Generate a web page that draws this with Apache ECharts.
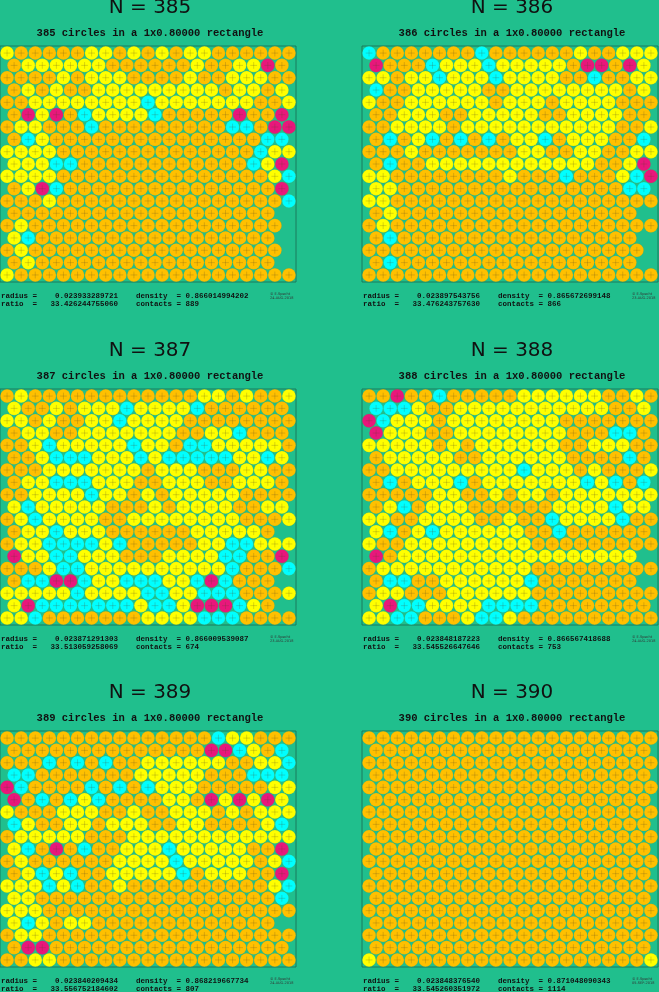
<!DOCTYPE html>
<html><head><meta charset="utf-8">
<script src="https://cdn.jsdelivr.net/npm/echarts@6/dist/echarts.min.js"></script>
<style>html,body{margin:0;padding:0;background:#20BF8D}#c{width:659px;height:992px}</style>
</head><body><div id="c"></div>
<script>
// Colour codes per row: O orange, Y yellow, C cyan, M magenta, '.' = no circle
const panelN = [385, 386, 387, 388, 389, 390];
const radii = ['0.023933289721','0.023897543756','0.023871291303','0.023848187223','0.023840209434','0.023848376540'];
const ratios = ['33.426244755060','33.476243757630','33.513059258069','33.545526647646','33.556752184602','33.545260351972'];
const densities = ['0.866014994202','0.865672699148','0.866009539087','0.866567418688','0.868219667734','0.871048090343'];
const contacts = ['889','866','674','753','807','1114'];
const dates = ['24-AUG-2018','23-AUG-2018','23-AUG-2018','24-AUG-2018','24-AUG-2018','05-SEP-2018'];
const rows385 = [
"YOOOOOYYOYOYOYYOOOOOO","OYYYYYYOOOOOOYOOYYMO","OOOOYOYYYOOOOYOOYYYOO","OYOYOOYYYYYYYYYOYYOY",
"OOYYYYYYYYCYYYYYYYOOY","OMYMOCYYYYCOOOOOMOOM","OYYOOOCOOOOOOOOOCCOMM","OCYOOOOOOOOOOOOOOOCC",
"YYYYOOOOOOOOOOOOOOCYY","YYYCCOOOOOOOOOOOOCYM","YYYYOOOOOOOOOOOOOOOYC","OYMCOOOOOOOOOOOOOOOM",
"OOOYOOOOOOOOOOOOOOOOC","OOOOOOOOOOOOOOOOOOO.","OYOOOOOOOOOOOOOOOOOO.","YCOOOOOOOOOOOOOOOOO.",
"OYOOOOOOOOOOOOOOOOOO.","OYOOOOOOOOOOOOOOOOO.","YOOOOOOOOOOOOOOOOOOOO"];
const rows386 = [
"COOOOOOOCOOOOOOYOOYYY","MOOOCYYYCYYYYYOMMOMY","YYOYYCYYYCYYYYOOCOOYY","COOYYYYYOOYYYYYYYYOY",
"YOOYYYYYYOYYYOYYYYOOO","OOYYYOOYYYYYOOYYYYOO","OOYYYYOYYYYYYYYYYYOOY","OCOYCOCOCOYYCOYYYOOC",
"OOOYOOOOOOOYYOOYYOOYY","OCOOYYYYYYYYYYYYOOYM","YYOOOOOOOOYOOOCOOOYCM","YYOOOOOOOOOOOOOOOOCC",
"YYOOOOOOOOOOOOOOOOOOO","OYOOOOOOOOOOOOOOOOO.","OYOOOOOOOOOOOOOOOOOOO","OCOOOOOOOOOOOOOOOOO.",
"OOOOOOOOOOOOOOOOOOOO.","OCOOOOOOOOOOOOOOOOO.","OOOOOOOOOOOOOOOOOOOOO"];
const rows387 = [
"OYOOOOOOOOOOOOYYOYOOY","YOOYOYYYCYYYYCOOOOOO","YYOYOOYYCYYYYOOOOOOOO","OYYOOYYYYYYYOOYYCOOO",
"OOYCYYYYYCYYOCCYYYYYO","OOYCCCYYYCYCCCCCYYCY","OOOYYYYYYYOYYYOOOYYOO","OYYCCCYYYOOYYYOOYYYO",
"OOYYYYCYYOYOYYYYYOOOO","YCYYYYYOOOYOYYYYOOYY","OYCYYYYOOYYYYYYYYOOOY","OYYCYYYOOOOOOYYYYYO.",
"OYYCCCCYCOOOOOYYCCYYY","MYYCCYYYOOOYYYYCCOOM","OOOYCCYYYYYYYYYYCOOOC","OCCMMCYYCCCYYCMCOOO.",
"YYYYYCYYYYCCYYCCCOOOY","YMCCCCCCCYCCYMMMCYO.","YYCOOOOOOOYYYYCCCOOOO"];
const rows388 = [
"OOMOOCOOOOOYYYYYYOOYO","CCCYOOYYYYYYYYYYYOOY","MCYYYOYYYYYYYYOOOOOOO","MYYYOOYYYYYYYYOOOCCO",
"YYYYYOYOYYYYYYOOYYYOO","OYYYYYOOYYYYYYOOOOCO","OOYYYYYYYYYCYYYOYOOOY","OCOYYYCOYYYYYYYCYCOC",
"OOOOOYYOOYOYYOYYYYYYY","OYCOYYYOOOOOOYYYYCYY","YYOOYYYYOOYOOCYYYYCOO","YCOYCYYYYYYOOCOOOOOO",
"YOOYYYYYYYYYOOOOOOOOO","MOYYYYYYYYYYYYYYYYY.","OYYYYYYYYYYYOOOOOOOOO","OCCOOYYYYYYCOOOOOOO.",
"OYYOOOYYYYYYOOOOOOOOO","YMCCYYYYCCCCOOOOOOOO","YYCCOOOYCCYOOOOOOOOOO"];
const rows389 = [
"OOOOOOOOOOOOOOOCYYOOO","OOOOOOOOOOOOOOMMCYOC","OOOCOCOCOOYYYYYYOOYYC","CCOOOOOOOYYYYYOOOCCC",
"MCOOOOCOCOCYYYOOOOOYY","MOCOCYCOOOOYYOMYMYMY","YOOOYYYOOYOOYYYOYOYYY","CYOOYYOYYYOOYYOOOOYC",
"OYYYYYOOOYYYYYYYYYYYY","YCOMOCOOYYYCYYYYYOOM","OYOOOOOOYYYYCYYYYYOYC","OYCYCOOYYYYYCOYYYOOM",
"YYYCYCOOYOOOOOOOOOOYC","YYOOOOOOOOOOOOOOOOOC","YYYOOOOOOOOOOOOOOOOOO","YCYOYYOOOOOOOOOOOOO.",
"OYYOOOOOOOOOOOOOOOOOO","OMMOOOOOOOOOOOOOOOOO","OOYYOOOOOOOOOOOOOOOOO"];
const rows390 = [
"OOOOOOOOOOOOOOOOOOOOO","OOOOOOOOOOOOOOOOOOOO","OOOOOOOOOOOOOOOOOOOOO","OOOOOOOOOOOOOOOOOOOO",
"OOOOOOOOOOOOOOOOOOOOO","OOOOOOOOOOOOOOOOOOOO","OOOOOOOOOOOOOOOOOOOOO","OOOOOOOOOOOOOOOOOOOO",
"OOOOOOOOOOOOOOOOOOOOO","OOOOOOOOOOOOOOOOOOOO","OOOOOOOOOOOOOOOOOOOOO","OOOOOOOOOOOOOOOOOOOO",
"OOOOOOOOOOOOOOOOOOOOO","OOOOOOOOOOOOOOOOOOOO","OOOOOOOOOOOOOOOOOOOOO","OOOOOOOOOOOOOOOOOOOO",
"OOOOOOOOOOOOOOOOOOOOO","OOOOOOOOOOOOOOOOOOOO","YOOOOOOOOOOOOOOOOOOOY"];
const allRows = [rows385, rows386, rows387, rows388, rows389, rows390];

const COLORS = {O:'#FFC000', Y:'#FFFF00', C:'#00FFFF', M:'#E8177B'};
const BG = '#20BF8D';
const panelPos = [[0,46],[362,46],[0,389],[362,389],[0,731],[362,731]];
const PW = 296, PH = 236;

const grids=[], xAxes=[], yAxes=[], series=[], graphics=[];
allRows.forEach((rows, p) => {
  const [L,T] = panelPos[p];
  grids.push({left:L, top:T, width:PW, height:PH, show:true, borderColor:'#1a7a5c', borderWidth:1, backgroundColor:'transparent'});
  xAxes.push({type:'value', gridIndex:p, min:0, max:1, show:false});
  yAxes.push({type:'value', gridIndex:p, min:0, max:0.8, show:false});
  const r = 0.0239, step = (1-2*r)/20, vstep = (0.8-2*r)/18;
  const data = [];
  rows.forEach((s, i) => {
    const y = 0.8 - r - i*vstep;
    const off = (i%2===0) ? 0 : step/2;
    for (let j=0;j<s.length;j++){
      const c = s[j];
      if (c==='.') continue;
      data.push([r + off + j*step, y, c]);
    }
  });
  series.push({
    type:'custom', xAxisIndex:p, yAxisIndex:p, data:data, silent:true,
    renderItem:(params, api) => {
      const pt = api.coord([api.value(0), api.value(1)]);
      const rad = api.size([r, 0])[0] - 0.3;
      const col = COLORS[data[params.dataIndex][2]];
      const a = rad*0.5;
      return {type:'group', children:[
        {type:'circle', shape:{cx:pt[0], cy:pt[1], r:rad}, style:{fill:col, stroke:'rgba(140,110,0,0.25)', lineWidth:0.4}},
        {type:'line', shape:{x1:pt[0]-a, y1:pt[1], x2:pt[0]+a, y2:pt[1]}, style:{stroke:'rgba(80,70,40,0.45)', lineWidth:0.5}},
        {type:'line', shape:{x1:pt[0], y1:pt[1]-a, x2:pt[0], y2:pt[1]+a}, style:{stroke:'rgba(80,70,40,0.45)', lineWidth:0.5}}
      ]};
    }
  });
  const cx = L + PW/2 + 2;
  graphics.push({type:'text', x:cx, y:T-38, style:{text:'N = '+panelN[p], fill:'#111', font:'20px "DejaVu Sans"', align:'center', verticalAlign:'middle'}});
  graphics.push({type:'text', x:cx, y:T-13, style:{text:panelN[p]+' circles in a 1x0.80000 rectangle', fill:'#111', font:'bold 10.5px "Liberation Mono"', align:'center', verticalAlign:'middle'}});
  graphics.push({type:'text', x:L+1, y:T+PH+14, style:{text:'radius =    '+radii[p]+'    density  = '+densities[p], fill:'#111', font:'bold 7.5px "Liberation Mono"', verticalAlign:'middle'}});
  graphics.push({type:'text', x:L+1, y:T+PH+22, style:{text:'ratio  =   '+ratios[p]+'    contacts = '+contacts[p], fill:'#111', font:'bold 7.5px "Liberation Mono"', verticalAlign:'middle'}});
  graphics.push({type:'text', x:L+270, y:T+PH+14, style:{text:'© E.Specht\n'+dates[p], fill:'#333', font:'3.5px "DejaVu Sans"', lineHeight:4, verticalAlign:'middle'}});
});

const chart = echarts.init(document.getElementById('c'));
chart.setOption({backgroundColor:BG, animation:false, grid:grids, xAxis:xAxes, yAxis:yAxes, series:series, graphic:graphics});
</script></body></html>
